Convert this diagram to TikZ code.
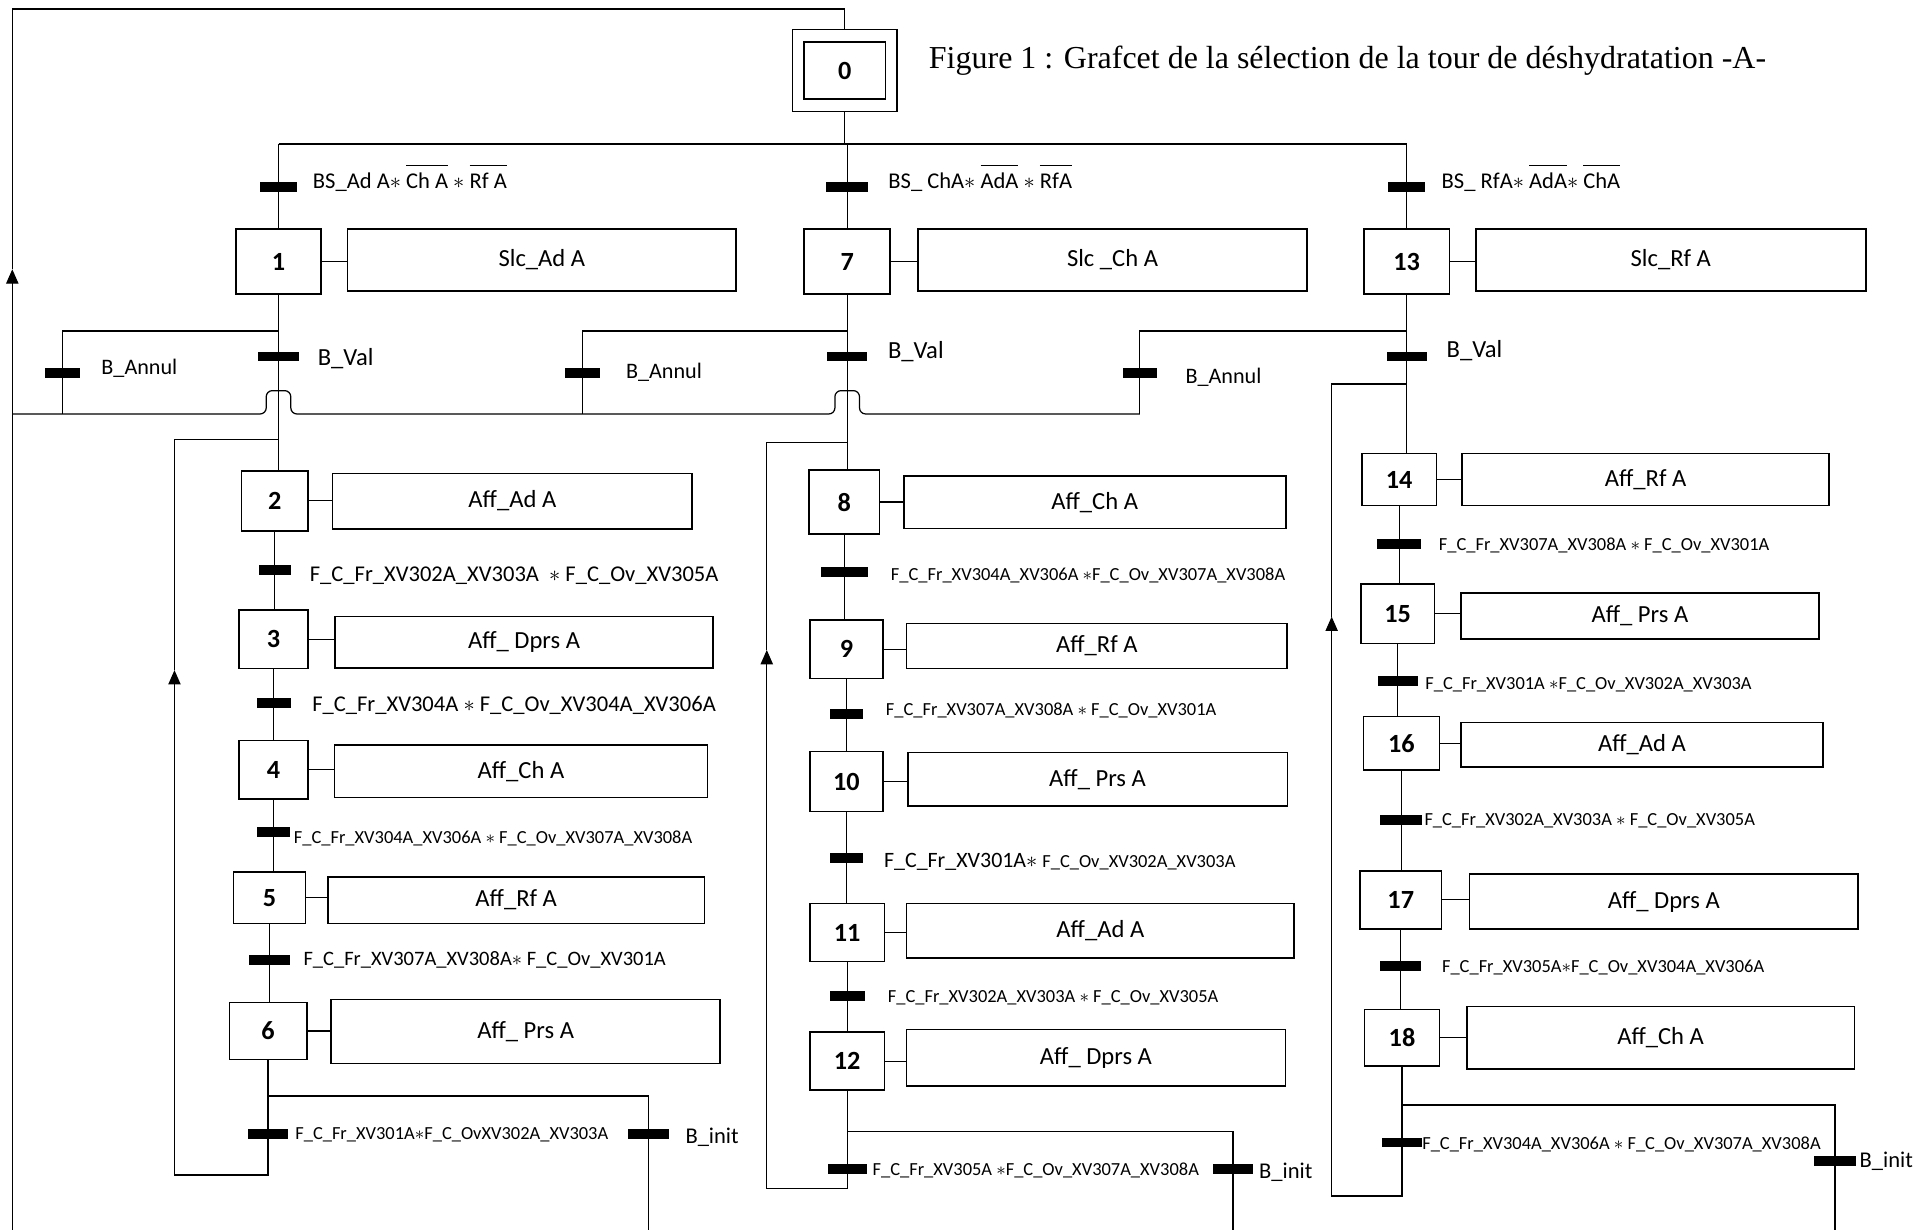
\documentclass[tikz,border=0pt]{standalone}
\usepackage{fontspec}
\setmainfont{Carlito}
\newfontfamily\titlefont{Liberation Serif}
\usetikzlibrary{arrows.meta,calc}
\newcommand\fsz[1]{\fontsize{#1}{#1}\selectfont}
% negated variable: bar drawn well above the letters
\newcommand\ovl[1]{\leavevmode\vbox{\hrule height 0.5pt\kern 3.6pt\hbox{#1}}}
\newcommand\mulstar{$*$}
\begin{document}
\begin{tikzpicture}[x=0.6pt,y=-0.6pt,line width=0.6pt,
  sz/.style 2 args={minimum width=#1*0.6pt,minimum height=#2*0.6pt},
  stepbox/.style={draw,line width=0.8pt,inner sep=0pt,font=\bfseries\fsz{12.8}},
  actbox/.style={draw,line width=0.8pt,inner sep=0pt,font=\fsz{12}},
  bar/.style={fill=black,draw=none,inner sep=0pt,minimum height=8*0.6pt,minimum width=#1*0.6pt},
  bar/.default=32,
  lbl/.style={anchor=base west,inner sep=0pt,font=\fsz{#1}},
  arr/.style={-{Triangle[length=7pt,width=6pt]}}]
\useasboundingbox (0,0) rectangle (1568,1000);

% title
\node[anchor=base west,inner sep=0pt,font=\titlefont\fsz{15.6}] (title) at (755,56)
  {Figure 1 : Grafcet de la sélection de la tour de déshydratation -A-};

% initial step
\node[draw,line width=0.7pt,sz={85}{67}] (s0o) at (687,57.4) {};
\node[stepbox,sz={66}{46.4}] (s0) at (s0o.center) {0};

% selection steps
\node[stepbox,sz={69}{53}]   (s1)  at (226.5,212.7) {1};
\node[actbox,sz={316}{50.5}] (a1)  at (440.7,211.5) {Slc\_Ad A};
\node[stepbox,sz={70}{53}]   (s7)  at (689,212.7) {7};
\node[actbox,sz={316}{50.5}] (a7)  at (904.8,211.5) {Slc \_Ch A};
\node[stepbox,sz={69.5}{53}] (s13) at (1144,212.7) {13};
\node[actbox,sz={317}{50.5}] (a13) at (1358.8,211.5) {Slc\_Rf A};

% sequence A (steps 2-6)
\node[stepbox,sz={54.4}{49}]   (s2) at (223.5,407.3) {2};
\node[actbox,sz={292.6}{45}]   (a2) at (416.7,407.5) {Aff\_Ad A};
\node[stepbox,sz={56}{47.5}]   (s3) at (222.5,519.8) {3};
\node[actbox,sz={307.6}{42}]   (a3) at (426.2,522.5) {Aff\_ Dprs A};
\node[stepbox,sz={56}{47.4}]   (s4) at (222.5,626) {4};
\node[actbox,sz={303.5}{42.6}] (a4) at (423.7,627.2) {Aff\_Ch A};
\node[stepbox,sz={58.4}{41.6}] (s5) at (219.2,730.2) {5};
\node[actbox,sz={306}{38}]     (a5) at (419.8,732) {Aff\_Rf A};
\node[stepbox,sz={63}{46.3}]   (s6) at (218,838.4) {6};
\node[actbox,sz={316.6}{52.1}] (a6) at (427.5,838.8) {Aff\_ Prs A};

% sequence B (steps 8-12)
\node[stepbox,sz={57.5}{52}]   (s8)  at (686.6,408.3) {8};
\node[actbox,sz={310.6}{42.6}] (a8)  at (890.3,408.4) {Aff\_Ch A};
\node[stepbox,sz={59}{47.5}]   (s9)  at (688.4,528) {9};
\node[actbox,sz={309.7}{36.6}] (a9)  at (892,525.3) {Aff\_Rf A};
\node[stepbox,sz={59}{48.8}]   (s10) at (688.4,635.7) {10};
\node[actbox,sz={308.8}{43.7}] (a10) at (892.6,633.7) {Aff\_ Prs A};
\node[stepbox,sz={60.4}{47.4}] (s11) at (689,758.4) {11};
\node[actbox,sz={315.3}{44.7}] (a11) at (894.9,757) {Aff\_Ad A};
\node[stepbox,sz={60.4}{46.9}] (s12) at (689,863) {12};
\node[actbox,sz={308.2}{46.1}] (a12) at (891.3,860.2) {Aff\_ Dprs A};

% sequence C (steps 14-18)
\node[stepbox,sz={60.5}{42.5}] (s14) at (1137.9,390) {14};
\node[actbox,sz={298.1}{42.5}] (a14) at (1338.3,390) {Aff\_Rf A};
\node[stepbox,sz={60}{48}]     (s15) at (1136.6,499.2) {15};
\node[actbox,sz={291.4}{37.2}] (a15) at (1333.7,501.1) {Aff\_ Prs A};
\node[stepbox,sz={61.8}{43.4}] (s16) at (1139.7,604.5) {16};
\node[actbox,sz={294.6}{36.5}] (a16) at (1335.3,605.7) {Aff\_Ad A};
\node[stepbox,sz={66.2}{47.4}] (s17) at (1139.2,731.8) {17};
\node[actbox,sz={316.3}{44.7}] (a17) at (1353.1,733.2) {Aff\_ Dprs A};
\node[stepbox,sz={60.8}{46}]   (s18) at (1140.2,843.9) {18};
\node[actbox,sz={315.4}{50.7}] (a18) at (1350.5,844) {Aff\_Ch A};

% step-to-action links
\foreach \i in {1,...,18} {\draw (s\i.east) -- (s\i.east -| a\i.west);}

% routing points
\coordinate (LB) at (10,1000);
\coordinate (LA) at (10,219);
\coordinate (LT) at (10,7.3);
\coordinate (bL) at (226.5,117.1);
\coordinate (bR) at (1144,117.1);
\coordinate (d1) at (226.5,269.2);
\coordinate (d7) at (689,269.2);
\coordinate (d13) at (1144,269.2);
\coordinate (ra1) at (50.8,336.7);
\coordinate (ra7) at (473.8,336.7);
\coordinate (ra13) at (927,336.7);
\coordinate (rL) at (10,336.7);
\coordinate (j1) at (226.5,336.7);
\coordinate (j7) at (689,336.7);
\coordinate (L1b) at (141.9,955.6);
\coordinate (L1arr) at (141.9,545);
\coordinate (L1d) at (226.5,357.3);
\coordinate (L7b) at (623.6,966.5);
\coordinate (L7arr) at (623.6,528.6);
\coordinate (L7d) at (689,359.7);
\coordinate (L13b) at (1083,972.7);
\coordinate (L13arr) at (1083,501.5);
\coordinate (L13d) at (1144,312.3);
\coordinate (B1) at (527.4,891.3);
\coordinate (B1e) at (527.4,1000);
\coordinate (B7) at (1002.7,920.4);
\coordinate (B7e) at (1002.7,1000);
\coordinate (B13) at (1492.4,898.7);
\coordinate (B13e) at (1492.4,1000);

% global return to step 0
\draw[arr] (LB) -- (LA);
\draw (LA) -- (LT) -| (s0o.north);

% selection divergence
\draw (s0o.south) -- (s0o.south |- bL);
\draw (bL) -- (bR);
\draw (bL) -- (s1.north);
\draw (s7.north |- bL) -- (s7.north);
\draw (bR) -- (s13.north);

% validation / cancel branches
\draw (s1.south) -- (s1.south |- s2.north);
\draw (s7.south) -- (s7.south |- s8.north);
\draw (s13.south) -- (s13.south |- s14.north);
\draw (d1) -| (ra1);
\draw (d7) -| (ra7);
\draw (d13) -| (ra13);

% cancel return line, jumping over the step lines
\draw[rounded corners=3pt] (ra13) -- ($(j7)+(10,0)$) -- ++(0,-19) -- ++(-20,0) -- ++(0,19)
  -- ($(j1)+(10,0)$) -- ++(0,-19) -- ++(-20,0) -- ++(0,19) -- (rL);

% sequence A
\draw (s2.south) -- (s2.south |- s3.north);
\draw (s3.south) -- (s3.south |- s4.north);
\draw (s4.south) -- (s4.south |- s5.north);
\draw (s5.south) -- (s5.south |- s6.north);
\draw[arr] (s6.south) |- (L1b) -- (L1arr);
\draw (L1arr) |- (L1d);
\draw (s6.south |- B1) -- (B1) -- (B1e);

% sequence B
\draw (s8.south) -- (s8.south |- s9.north);
\draw (s9.south) -- (s9.south |- s10.north);
\draw (s10.south) -- (s10.south |- s11.north);
\draw (s11.south) -- (s11.south |- s12.north);
\draw[arr] (s12.south) |- (L7b) -- (L7arr);
\draw (L7arr) |- (L7d);
\draw (s12.south |- B7) -- (B7) -- (B7e);

% sequence C
\draw (s14.south) -- (s14.south |- s15.north);
\draw (s15.south) -- (s15.south |- s16.north);
\draw (s16.south) -- (s16.south |- s17.north);
\draw (s17.south) -- (s17.south |- s18.north);
\draw[arr] (s18.south) |- (L13b) -- (L13arr);
\draw (L13arr) |- (L13d);
\draw (s18.south |- B13) -- (B13) -- (B13e);

% transitions
\node[bar=30]   (t1)  at (226.5,151.8) {};
\node[bar=34]   (t7)  at (689,151.8) {};
\node[bar=30]   (t13) at (1144,151.8) {};
\node[bar=34]   (tv1) at (226.5,290) {};
\node[bar=33]   (tv7) at (689,290) {};
\node[bar=32.5] (tv13) at (1144,290) {};
\node[bar=28]   (ta1) at (50.8,303.6) {};
\node[bar=28]   (ta7) at (473.8,303.6) {};
\node[bar=27.4] (ta13) at (927,303.6) {};
\node[bar=26.5] (t2)  at (223.5,463.9) {};
\node[bar=27.7] (t3)  at (222.5,571.9) {};
\node[bar=26.8] (t4)  at (222.5,676.8) {};
\node[bar=33.2] (t5)  at (219.2,780.6) {};
\node[bar=33.1] (t6)  at (218,922) {};
\node[bar=32.7] (ti1) at (527.4,922) {};
\node[bar=38]   (t8)  at (686.6,465.3) {};
\node[bar=27]   (t9)  at (688.4,580.8) {};
\node[bar=27]   (t10) at (688.4,698) {};
\node[bar=28.5] (t11) at (689,809.9) {};
\node[bar=32]   (t12) at (689,950.8) {};
\node[bar=32.7] (ti7) at (1002.7,950.8) {};
\node[bar=36.3] (t14) at (1137.9,442.5) {};
\node[bar=32.5] (t15) at (1136.6,553.7) {};
\node[bar=34]   (t16) at (1139.7,666.9) {};
\node[bar=33.4] (t17) at (1139.2,785.9) {};
\node[bar=33.1] (t18) at (1140.2,929.2) {};
\node[bar=33.5] (ti13) at (1492.4,944.5) {};

% receptivities
\node[lbl=11] (r1)  at (254,153.6)  {BS\_Ad A\mulstar\ \ovl{Ch A} \mulstar\ \ovl{Rf A}};
\node[lbl=11] (r7)  at (722,153.6)  {BS\_ ChA\mulstar\ \ovl{AdA} \mulstar\ \ovl{RfA}};
\node[lbl=11] (r13) at (1172,153.6) {BS\_ RfA\mulstar\ \ovl{AdA}\mulstar\ \ovl{ChA}};
\node[lbl=12] (rv1)  at (258,297)     {B\_Val};
\node[lbl=12] (rv7)  at (721.7,291.6) {B\_Val};
\node[lbl=12] (rv13) at (1176,291.1)  {B\_Val};
\node[lbl=10.8] (ra1l)  at (82,304.8)    {B\_Annul};
\node[lbl=10.8] (ra7l)  at (508.7,307.5) {B\_Annul};
\node[lbl=10.8] (ra13l) at (963.7,312.1) {B\_Annul};
\node[lbl=11] (r2) at (251.5,472.7) {F\_C\_Fr\_XV302A\_XV303A\ \ \mulstar\ F\_C\_Ov\_XV305A};
\node[lbl=11] (r3) at (253.5,578.4) {F\_C\_Fr\_XV304A \mulstar\ F\_C\_Ov\_XV304A\_XV306A};
\node[lbl=9]  (r4) at (238.5,685.8) {F\_C\_Fr\_XV304A\_XV306A \mulstar\ F\_C\_Ov\_XV307A\_XV308A};
\node[lbl=10] (r5) at (246.4,785.6) {F\_C\_Fr\_XV307A\_XV308A\mulstar\ F\_C\_Ov\_XV301A};
\node[lbl=9]  (r6) at (239.7,927.1) {F\_C\_Fr\_XV301A\mulstar F\_C\_OvXV302A\_XV303A};
\node[lbl=11] (ri1) at (557,930.3) {B\_init};
\node[lbl=9]  (r8)  at (724.1,471.8) {F\_C\_Fr\_XV304A\_XV306A \mulstar F\_C\_Ov\_XV307A\_XV308A};
\node[lbl=9]  (r9)  at (720,581.7)   {F\_C\_Fr\_XV307A\_XV308A \mulstar\ F\_C\_Ov\_XV301A};
\node[lbl=10.7] (r10) at (718.5,705.3) {F\_C\_Fr\_XV301A\mulstar\ {\fsz{9}F\_C\_Ov\_XV302A\_XV303A}};
\node[lbl=9]  (r11) at (721.6,815.4) {F\_C\_Fr\_XV302A\_XV303A \mulstar\ F\_C\_Ov\_XV305A};
\node[lbl=9]  (r12) at (709.2,955.8) {F\_C\_Fr\_XV305A \mulstar F\_C\_Ov\_XV307A\_XV308A};
\node[lbl=11] (ri7) at (1023.5,958.8) {B\_init};
\node[lbl=9]  (r14) at (1169.7,448)  {F\_C\_Fr\_XV307A\_XV308A \mulstar\ F\_C\_Ov\_XV301A};
\node[lbl=9]  (r15) at (1158.7,560.5) {F\_C\_Fr\_XV301A \mulstar F\_C\_Ov\_XV302A\_XV303A};
\node[lbl=9]  (r16) at (1158,671.7)  {F\_C\_Fr\_XV302A\_XV303A \mulstar\ F\_C\_Ov\_XV305A};
\node[lbl=9]  (r17) at (1172.3,791)  {F\_C\_Fr\_XV305A\mulstar F\_C\_Ov\_XV304A\_XV306A};
\node[lbl=9]  (r18) at (1156.2,934.6) {F\_C\_Fr\_XV304A\_XV306A \mulstar\ F\_C\_Ov\_XV307A\_XV308A};
\node[lbl=11] (ri13) at (1511.9,949.3) {B\_init};
\end{tikzpicture}
\end{document}
